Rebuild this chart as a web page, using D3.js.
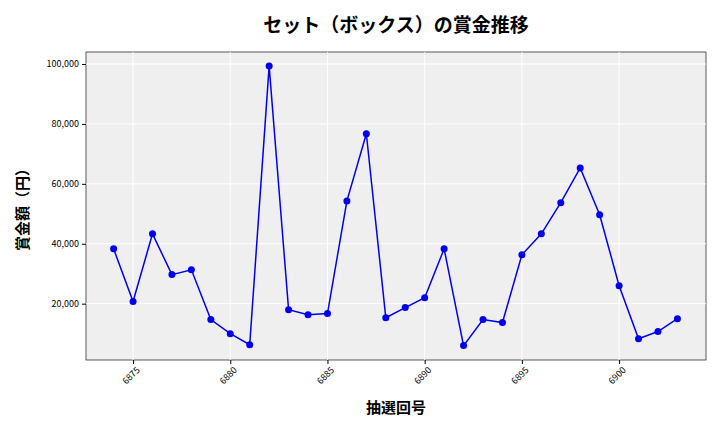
<!DOCTYPE html>
<html><head><meta charset="utf-8">
<script src="https://cdn.jsdelivr.net/npm/d3@7"></script>
<style>body{margin:0;background:#fff}text{font-family:"Noto Sans CJK JP","Noto Sans",sans-serif}</style>
</head><body><svg id="c" width="720" height="432"></svg>
<script>
const rounds = d3.range(6874, 6904);
const prizes = [38300,20700,43300,29700,31300,14700,10000,6300,99300,18000,16300,16700,54300,76700,15300,18700,22000,38300,6000,14700,13700,36300,43300,53700,65300,49700,26000,8300,10700,15000];
const xTicks = [6875,6880,6885,6890,6895,6900];
const yTicks = [20000,40000,60000,80000,100000];

const svg = d3.select("#c");
const L=86,R=706,T=52,B=360;
const x = d3.scaleLinear().domain([6872.58,6904.47]).range([L,R]);
const y = d3.scaleLinear().domain([1200,104000]).range([B,T]);
svg.append("rect").attr("x",L).attr("y",T).attr("width",R-L).attr("height",B-T).attr("fill","#efefef").attr("stroke","#333").attr("stroke-width",0.8);
const g = svg.append("g");
xTicks.forEach(t=>g.append("line").attr("x1",x(t)).attr("x2",x(t)).attr("y1",T).attr("y2",B).attr("stroke","#fff").attr("stroke-width",1));
yTicks.forEach(t=>g.append("line").attr("y1",y(t)).attr("y2",y(t)).attr("x1",L).attr("x2",R).attr("stroke","#fff").attr("stroke-width",1));
const xa = svg.append("g").attr("transform",`translate(0,${B})`).call(d3.axisBottom(x).tickValues(xTicks).tickFormat(d3.format("d")).tickSize(4));
xa.select(".domain").remove();
xa.selectAll("text").attr("transform","rotate(-45)").attr("text-anchor","end").attr("dx","-0.3em").attr("dy","0.6em").style("font-size","9px");
const ya = svg.append("g").attr("transform",`translate(${L},0)`).call(d3.axisLeft(y).tickValues(yTicks).tickFormat(d3.format(",")).tickSize(4));
ya.select(".domain").remove();
ya.selectAll("text").style("font-size","9px");
const data = rounds.map((r,i)=>[r,prizes[i]]);
svg.append("path").datum(data).attr("fill","none").attr("stroke","#0000ee").attr("stroke-width",1.5)
 .attr("d",d3.line().x(d=>x(d[0])).y(d=>y(d[1])));
svg.selectAll("circle").data(data).join("circle").attr("cx",d=>x(d[0])).attr("cy",d=>y(d[1])).attr("r",3.5).attr("fill","#0000ee");
svg.append("text").attr("x",396).attr("y",32).attr("text-anchor","middle").style("font-size","19px").style("font-weight","bold").text("セット（ボックス）の賞金推移");
svg.append("text").attr("x",396).attr("y",413).attr("text-anchor","middle").style("font-size","15px").style("font-weight","bold").text("抽選回号");
svg.append("text").attr("transform","translate(28,206) rotate(-90)").attr("text-anchor","middle").style("font-size","15px").style("font-weight","bold").text("賞金額（円）");
</script></body></html>
